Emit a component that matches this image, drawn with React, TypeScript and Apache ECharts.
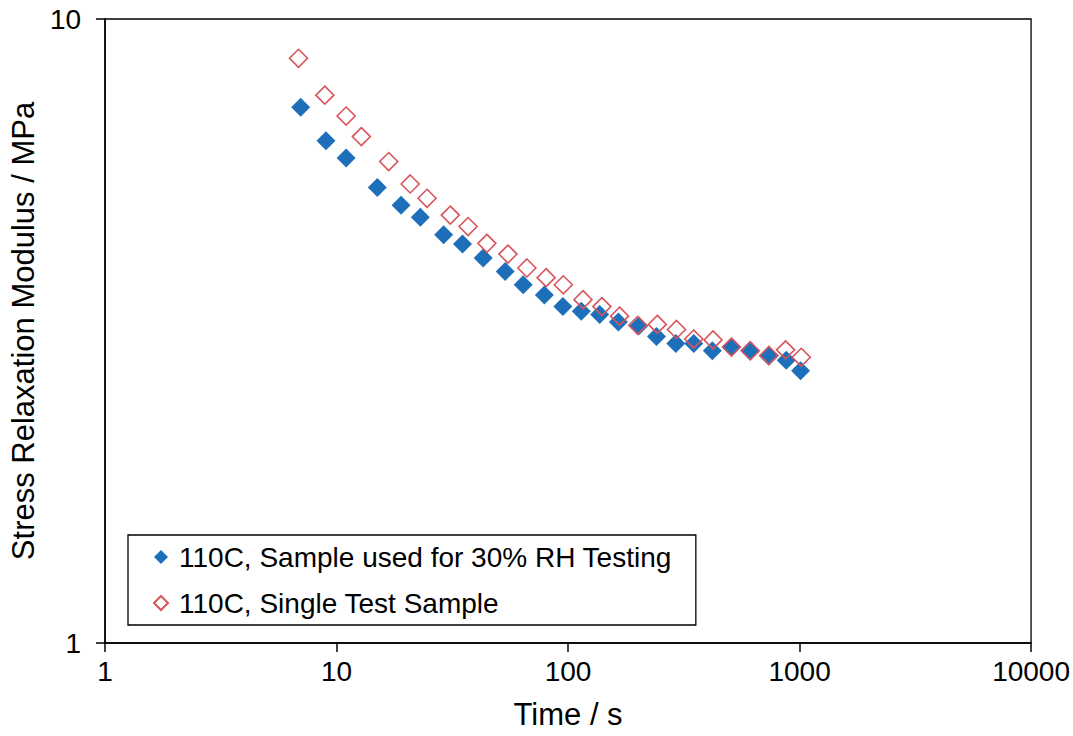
import React, { useEffect, useRef } from "react";
import * as echarts from "echarts";

const blueName = "110C, Sample used for 30% RH Testing";
const redName = "110C, Single Test Sample";

const blueTime = [7, 9, 11, 15, 19, 23, 29, 35, 43, 53.5, 64, 79, 95, 114, 137, 165, 202, 241, 292, 349, 420, 508, 609, 737, 876, 1010];
const blueModulus = [7.22, 6.38, 5.99, 5.37, 5.03, 4.81, 4.51, 4.36, 4.14, 3.94, 3.75, 3.61, 3.46, 3.4, 3.36, 3.27, 3.22, 3.1, 3.02, 3.02, 2.94, 2.98, 2.94, 2.88, 2.84, 2.73];

const redTime = [6.85, 8.9, 11, 12.8, 16.8, 20.8, 24.6, 31, 37, 44.6, 55, 66.4, 80.4, 95.4, 116, 140, 167, 200, 243, 294, 349, 423, 508, 613, 737, 870, 1017];
const redModulus = [8.65, 7.55, 6.99, 6.48, 5.91, 5.44, 5.16, 4.85, 4.65, 4.37, 4.2, 3.99, 3.85, 3.75, 3.55, 3.46, 3.34, 3.23, 3.24, 3.18, 3.07, 3.06, 2.98, 2.94, 2.89, 2.95, 2.87];

const xRange = [1, 10000];
const yRange = [1, 10];

const FONT = "'Liberation Sans', Arial, sans-serif";

export default function App() {
  const ref = useRef<HTMLDivElement>(null);
  useEffect(() => {
    if (!ref.current) return;
    const chart = echarts.init(ref.current, null, { renderer: "svg" });
    const zip = (xs: number[], ys: number[]) => xs.map((x, i) => [x, ys[i]]);
    chart.setOption({
      animation: false,
      backgroundColor: "#fff",
      textStyle: { fontFamily: FONT },
      grid: {
        left: 104,
        top: 19,
        right: 33,
        bottom: 93,
        show: true,
        borderColor: "#000",
        borderWidth: 1.3,
        containLabel: false,
      },
      legend: {
        orient: "vertical",
        left: 128,
        top: 535,
        padding: [8, 24, 8, 25],
        itemGap: 18,
        itemWidth: 14,
        itemHeight: 14,
        borderColor: "#000",
        borderWidth: 1.3,
        backgroundColor: "#fff",
        textStyle: { fontSize: 28, color: "#000", fontFamily: FONT, padding: [0, 0, 0, 6] },
        data: [
          { name: blueName, icon: "diamond" },
          { name: redName, icon: "diamond" },
        ],
      },
      xAxis: {
        type: "log",
        logBase: 10,
        min: xRange[0],
        max: xRange[1],
        name: "Time / s",
        nameLocation: "middle",
        nameGap: 56,
        nameTextStyle: { fontSize: 31, color: "#000", fontFamily: FONT },
        axisLine: { show: true, lineStyle: { color: "#000", width: 1.5 } },
        axisTick: { show: true, length: 9, lineStyle: { color: "#000", width: 1.5 } },
        axisLabel: {
          fontSize: 28,
          color: "#000",
          margin: 14,
          fontFamily: FONT,
          formatter: (v: number) => String(Math.round(v)),
        },
        splitLine: { show: false },
        minorTick: { show: false },
      },
      yAxis: {
        type: "log",
        logBase: 10,
        min: yRange[0],
        max: yRange[1],
        name: "Stress Relaxation Modulus / MPa",
        nameLocation: "middle",
        nameGap: 61,
        nameTextStyle: { fontSize: 31, color: "#000", fontFamily: FONT },
        axisLine: { show: true, lineStyle: { color: "#000", width: 1.5 } },
        axisTick: { show: true, length: 9, lineStyle: { color: "#000", width: 1.5 } },
        axisLabel: {
          fontSize: 28,
          color: "#000",
          margin: 24,
          fontFamily: FONT,
          formatter: (v: number) => String(Math.round(v)),
        },
        splitLine: { show: false },
      },
      series: [
        {
          name: blueName,
          type: "scatter",
          symbol: "diamond",
          symbolSize: 19,
          itemStyle: { color: "#1E6FBA", opacity: 1 },
          data: zip(blueTime, blueModulus),
        },
        {
          name: redName,
          type: "scatter",
          symbol: "diamond",
          symbolSize: 18,
          itemStyle: { color: "rgba(255,255,255,0)", borderColor: "#D8545A", borderWidth: 1.6, opacity: 1 },
          data: zip(redTime, redModulus),
        },
      ],
    });
    return () => chart.dispose();
  }, []);
  return (
    <div
      ref={ref}
      style={{ position: "fixed", left: 0, top: 0, width: 1073, height: 736 }}
    />
  );
}
